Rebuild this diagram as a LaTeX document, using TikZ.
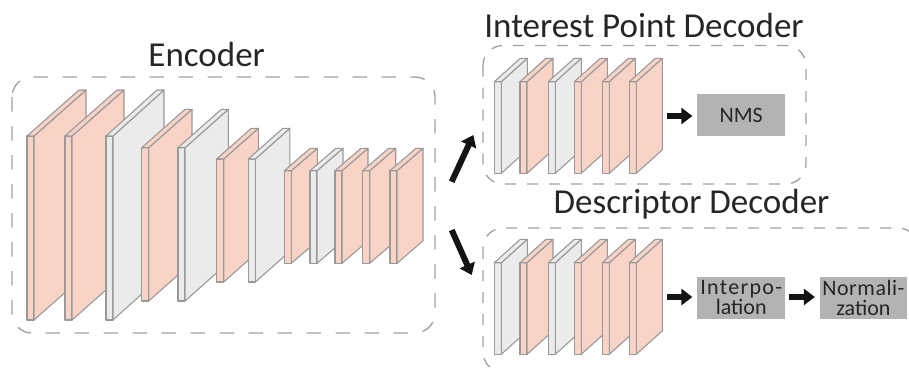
\documentclass[tikz,border=0pt]{standalone}
\usepackage{fontspec}
\setmainfont{Carlito}
\usetikzlibrary{arrows.meta}
\definecolor{slabpink}{HTML}{F9D3C6}
\definecolor{slabgray}{HTML}{EBEBEB}
\definecolor{slabedge}{HTML}{999999}
\definecolor{boxedge}{HTML}{A0A0A0}
\definecolor{opbox}{HTML}{B3B3B3}
\definecolor{inktext}{HTML}{262626}
\definecolor{arrowink}{HTML}{141414}
\tikzset{
  slab/.style={draw=slabedge, line width=1.1pt, line join=round},
  groupbox/.style={draw=boxedge, line width=1.3pt, rounded corners=20pt},
  encdash/.style={dash pattern=on 14.5pt off 14.5pt},
  decdash/.style={dash pattern=on 11pt off 11pt},
  title/.style={anchor=base, text=inktext, font=\fontsize{35}{40}\selectfont, inner sep=0pt},
  opnode/.style={fill=opbox, text=inktext, minimum width=88pt, minimum height=42pt,
    inner sep=0pt, align=center, font=\fontsize{22}{20}\selectfont},
  bigarrow/.style={draw=arrowink, line width=6pt, -{Triangle[length=11pt,width=16pt]}},
}
% one feature-map slab: fill, front-left x, front top y, front bottom y, depth dx, depth dy
\newcommand\drawslab[6]{%
  \filldraw[slab,fill=#1] (#2,#3) rectangle ({#2+7},#4);
  \filldraw[slab,fill=#1] ({#2+7},#3) -- ({#2+7+#5},{#3-#6}) -- ({#2+7+#5},{#4-#6}) -- ({#2+7},#4) -- cycle;
  \filldraw[slab,fill=#1] (#2,#3) -- ({#2+#5},{#3-#6}) -- ({#2+7+#5},{#3-#6}) -- ({#2+7},#3) -- cycle;
}
% decoder head: six slabs, shifted down by #1
\newcommand\decoderslabs[1]{%
  \drawslab{slabgray}{494.3}{81.7+#1}{173.3+#1}{26}{23.4}
  \drawslab{slabpink}{520}{81.7+#1}{173.3+#1}{26}{23.4}
  \drawslab{slabgray}{548.3}{81.7+#1}{173.3+#1}{26}{23.4}
  \drawslab{slabpink}{574.3}{81.7+#1}{173.3+#1}{26}{23.4}
  \drawslab{slabpink}{602.3}{81.7+#1}{173.3+#1}{26}{23.4}
  \drawslab{slabpink}{629.3}{81.7+#1}{173.3+#1}{26}{23.4}
}
\begin{document}
\begin{tikzpicture}[x=1pt,y=-1pt]
\useasboundingbox (0,0) rectangle (909,367);
\clip (0,0) rectangle (909,367);

% group frames
\draw[groupbox,encdash] (12,77) rectangle (435,333);
\draw[groupbox,decdash] (483,45.5) rectangle (806,184);
\draw[groupbox,decdash] (483,228) rectangle (918,372);

% titles
\node[title] (enctitle) at (206.7,66.7) {Encoder};
\node[title] (iptitle) at (644,37.7) {Interest Point Decoder};
\node[title] (desctitle) at (691.5,213.3) {Descriptor Decoder};

% encoder slabs
\drawslab{slabpink}{27}{136}{320}{52}{46}
\drawslab{slabpink}{65}{136}{320}{52}{46}
\drawslab{slabgray}{106}{136}{320}{51}{46}
\drawslab{slabpink}{141.7}{147.7}{301}{43.3}{38.4}
\drawslab{slabgray}{178}{147.7}{301}{43.3}{38.4}
\drawslab{slabpink}{216.7}{159}{282}{34.6}{30.7}
\drawslab{slabgray}{248.3}{159}{282}{34.6}{30.7}
\drawslab{slabpink}{284.3}{170.7}{263.3}{26}{22.4}
\drawslab{slabgray}{310}{170.7}{263.3}{26}{22.4}
\drawslab{slabpink}{335}{170.7}{263.3}{26}{22.4}
\drawslab{slabpink}{362.7}{170.7}{263.3}{26}{22.4}
\drawslab{slabpink}{390}{170.7}{263.3}{26}{22.4}

% decoder slabs
\decoderslabs{0}
\decoderslabs{181}

% operation boxes
\node[opnode] (nms) at (741.2,115.4) {NMS};
\node[opnode] (interp) at (741.2,297.5)
  {\addfontfeature{LetterSpace=5.9}Interpo-\\lation};
\node[opnode, minimum width=86.7pt] (norm) at (863.4,297.5)
  {\addfontfeature{LetterSpace=2.4}Normali-\\zation};

% arrow anchors
\coordinate (encout) at (451.7,181.7);
\coordinate (encout2) at (451.7,230);
\coordinate (iphead) at (473.3,135);
\coordinate (deschead) at (471.7,275);
\coordinate (ipout) at (667,116);
\coordinate (descout) at (667,297);

% connectors
\draw[bigarrow] (encout) -- (iphead);
\draw[bigarrow] (encout2) -- (deschead);
\draw[bigarrow, shorten >=4.6pt] (ipout) -- (ipout -| nms.west);
\draw[bigarrow, shorten >=4.6pt] (descout) -- (descout -| interp.west);
\draw[bigarrow, shorten >=5pt, shorten <=4pt] (interp.east |- descout) -- (norm.west |- descout);
\end{tikzpicture}
\end{document}
